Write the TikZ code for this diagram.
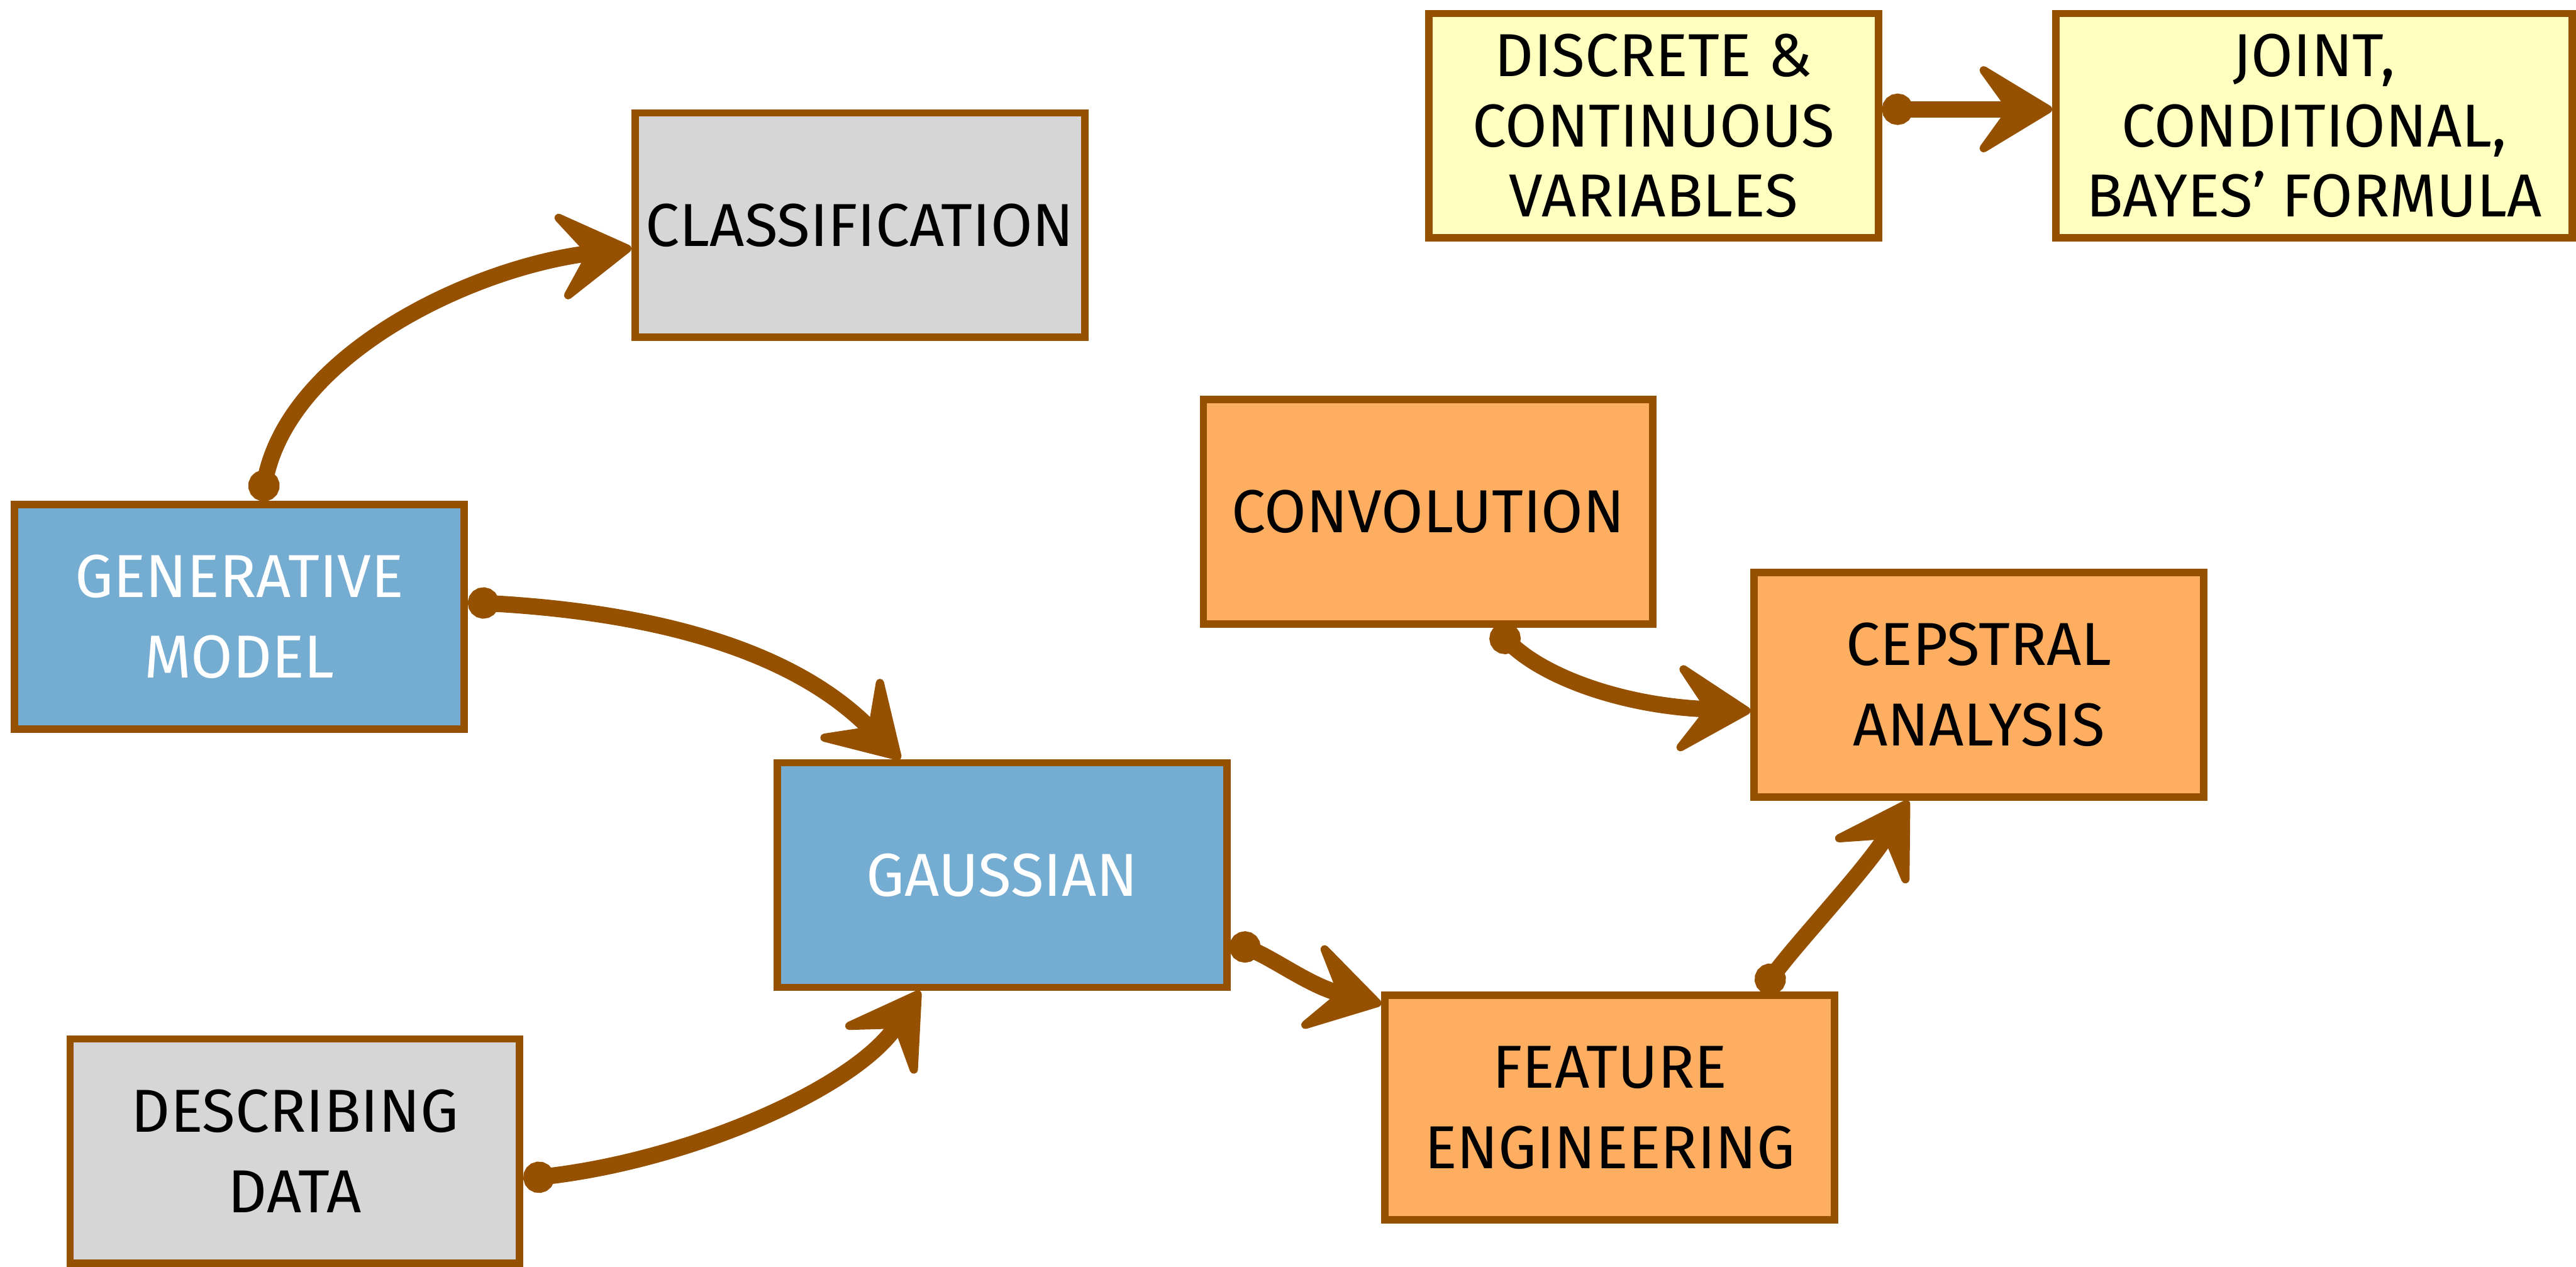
\documentclass[tikz,border=0pt]{standalone}
\usepackage{fontspec}
\setmainfont{Fira Sans}
\usetikzlibrary{arrows.meta,calc}
\definecolor{brn}{HTML}{955100}
\definecolor{bluef}{HTML}{75ACD2}
\definecolor{orangef}{HTML}{FDAE61}
\definecolor{yellowf}{HTML}{FFFFBF}
\definecolor{grayf}{HTML}{D6D6D6}
\tikzset{
  box/.style={draw=brn, line width=0.045cm, minimum width=2.735cm, minimum height=1.365cm,
    inner sep=0pt, align=center, font=\fontsize{10.5}{13.9}\selectfont},
  bluebox/.style={box, fill=bluef, text=white},
  graybox/.style={box, fill=grayf, text=black},
  orangebox/.style={box, fill=orangef, text=black},
  yellowbox/.style={box, fill=yellowf, text=black, font=\fontsize{10.5}{12.1}\selectfont},
  conn/.style={draw=brn, line width=0.1cm, line cap=round, line join=round,
    {Circle[length=0.19cm]}-{Stealth[length=0.53cm,width=0.64cm,inset=0.23cm,line width=0.05cm,round]}}
}
\begin{document}
\begin{tikzpicture}[x=0.01cm,y=-0.01cm]
\useasboundingbox (0,0) rectangle (1568,770.64);
% nodes
\node[graybox] (cls) at (523.4,137) {CLASSIFICATION};
\node[bluebox] (gm) at (145.7,375.4) {GENERATIVE\\MODEL};
\node[bluebox] (gau) at (610,532.5) {GAUSSIAN};
\node[graybox] (dd) at (179.5,700.5) {DESCRIBING\\DATA};
\node[orangebox] (conv) at (869.3,311.4) {CONVOLUTION};
\node[orangebox] (cep) at (1204.6,416.6) {CEPSTRAL\\ANALYSIS};
\node[orangebox] (fe) at (979.9,674) {FEATURE\\ENGINEERING};
\node[yellowbox] (disc) at (1006.5,76.5) {DISCRETE \&\\CONTINUOUS\\VARIABLES};
\node[yellowbox, minimum width=3.14cm] (joint) at (1408.5,76.5) {JOINT,\\CONDITIONAL,\\BAYES' FORMULA};
% connectors
\draw[conn] ($(gm.north)+(13,0)$) .. controls +(19,-90) and +(-97,12) .. ($(cls.west)+(0,14)$);
\draw[conn] ($(gm.east)+(0,-9)$) .. controls +(107,6) and +(-68,-69) .. ($(gau.north)+(-62,0)$);
\draw[conn] ($(dd.east)+(0,17)$) .. controls +(103,-12) and +(-40,59) .. ($(gau.south)+(-50,0)$);
\draw[conn] ($(gau.east)+(0,40)$) .. controls +(28,12) and +(-43,-11) .. ($(fe.west)+(0,-63)$);
\draw[conn] ($(fe.north)+(92,0)$) .. controls +(23,-31) and +(-26,42) .. ($(cep.south)+(-43,0)$);
\draw[conn] ($(conv.south)+(40,0)$) .. controls +(31,30) and +(-78,-3) .. ($(cep.west)+(0,16)$);
\draw[conn] ($(disc.east)+(0,-10)$) -- ($(joint.west)+(0,-10)$);
\end{tikzpicture}
\end{document}
